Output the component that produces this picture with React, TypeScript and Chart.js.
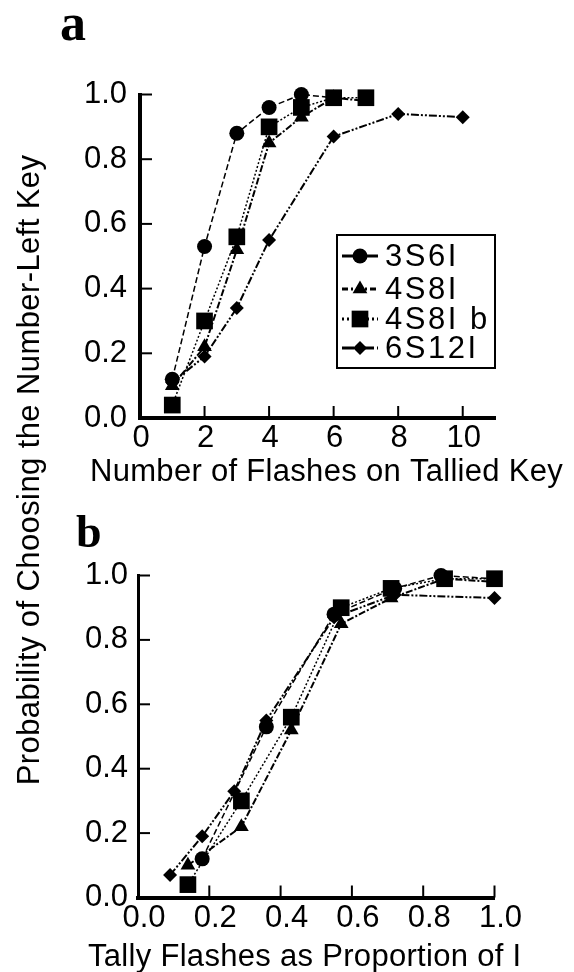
import React, { useEffect, useRef } from 'react';
import { Chart, registerables } from 'chart.js';

Chart.register(...registerables);

const W = 574;
const H = 972;

const seriesNames = ['3S6I', '4S8I', '4S8I b', '6S12I'];

// Panel a: number of flashes on the tallied key
const aX3S6I = [1, 2, 3, 4, 5, 6];
const aY3S6I = [0.12, 0.53, 0.88, 0.96, 1.0, 0.99];
const aX4S8I = [1, 2, 3, 4, 5, 6, 7];
const aY4S8I = [0.1, 0.22, 0.52, 0.85, 0.93, 0.99, 0.98];
const aX4S8Ib = [1, 2, 3, 4, 5, 6, 7];
const aY4S8Ib = [0.04, 0.3, 0.56, 0.9, 0.96, 0.99, 0.99];
const aX6S12I = [1, 2, 3, 4, 6, 8, 10];
const aY6S12I = [0.11, 0.19, 0.34, 0.55, 0.87, 0.94, 0.93];

// Panel b: tally flashes as proportion of I
const bX3S6I = [0.18, 0.36, 0.55, 0.72, 0.85, 1.0];
const bY3S6I = [0.12, 0.53, 0.88, 0.96, 1.0, 0.99];
const bX4S8I = [0.14, 0.29, 0.43, 0.57, 0.71, 0.86, 1.0];
const bY4S8I = [0.1, 0.22, 0.52, 0.85, 0.93, 0.99, 0.98];
const bX4S8Ib = [0.14, 0.29, 0.43, 0.57, 0.71, 0.86, 1.0];
const bY4S8Ib = [0.04, 0.3, 0.56, 0.9, 0.96, 0.99, 0.99];
const bX6S12I = [0.09, 0.18, 0.27, 0.36, 0.55, 0.72, 1.0];
const bY6S12I = [0.07, 0.19, 0.33, 0.55, 0.87, 0.94, 0.93];

const aXTicks = [0, 2, 4, 6, 8, 10];
const bXTicks = [0, 0.2, 0.4, 0.6, 0.8, 1.0];
const yTicks = [0, 0.2, 0.4, 0.6, 0.8, 1.0];

const labelA = 'a';
const labelB = 'b';
const yTitle = 'Probability of Choosing the Number-Left Key';
const xTitleA = 'Number of Flashes on Tallied Key';
const xTitleB = 'Tally Flashes as Proportion of I';

const SANS = '"Liberation Sans", Arial, Helvetica, sans-serif';
const SERIF = '"Liberation Serif", "Times New Roman", serif';
const FS = 31;

const styles = [
  { pointStyle: 'circle', radius: 7.5, dash: [6, 3], width: 1.5, legendDash: [] as number[] },
  { pointStyle: 'triangle', radius: 8.5, dash: [7, 2, 2, 2], width: 2, legendDash: [6, 3, 2, 3] },
  { pointStyle: 'rect', radius: 11.8, dash: [2, 2], width: 1.5, legendDash: [2, 3] },
  { pointStyle: 'rectRot', radius: 7, dash: [8, 2, 2, 2, 2, 2], width: 2, legendDash: [12, 3, 2, 3] },
];

function drawMarker(ctx: CanvasRenderingContext2D, style: string, x: number, y: number, r: number) {
  ctx.beginPath();
  if (style === 'circle') {
    ctx.arc(x, y, r, 0, Math.PI * 2);
  } else if (style === 'triangle') {
    for (let k = 0; k < 3; k++) {
      const a = (k * 2 * Math.PI) / 3;
      const px = x + Math.sin(a) * r;
      const py = y - Math.cos(a) * r;
      if (k === 0) ctx.moveTo(px, py);
      else ctx.lineTo(px, py);
    }
  } else if (style === 'rect') {
    const s = Math.SQRT1_2 * r;
    ctx.rect(x - s, y - s, 2 * s, 2 * s);
  } else {
    ctx.moveTo(x - r, y);
    ctx.lineTo(x, y - r);
    ctx.lineTo(x + r, y);
    ctx.lineTo(x, y + r);
  }
  ctx.closePath();
  ctx.fill();
}

const inwardTicksPlugin = {
  id: 'inwardTicks',
  beforeDatasetsDraw(chart: any, _a: any, opts: any) {
    const { ctx, chartArea } = chart;
    const xs = chart.scales.x;
    const ys = chart.scales.y;
    ctx.save();
    ctx.strokeStyle = '#000';
    ctx.lineWidth = opts.width || 2;
    for (const t of xs.ticks) {
      if (t.value === xs.min) continue;
      const px = xs.getPixelForValue(t.value);
      ctx.beginPath();
      ctx.moveTo(px, chartArea.bottom);
      ctx.lineTo(px, chartArea.bottom - opts.length);
      ctx.stroke();
    }
    for (const t of ys.ticks) {
      if (t.value === ys.min) continue;
      const py = ys.getPixelForValue(t.value);
      ctx.beginPath();
      ctx.moveTo(chartArea.left, py);
      ctx.lineTo(chartArea.left + opts.length, py);
      ctx.stroke();
    }
    ctx.restore();
  },
};

const textPlugin = {
  id: 'figureText',
  afterDraw(chart: any, _a: any, opts: any) {
    const ctx = chart.ctx as CanvasRenderingContext2D;
    for (const t of opts.items || []) {
      ctx.save();
      ctx.font = `${t.weight || 'normal'} ${t.size}px ${t.family}`;
      ctx.fillStyle = '#000';
      ctx.textAlign = t.align || 'left';
      ctx.textBaseline = t.baseline || 'alphabetic';
      (ctx as any).letterSpacing = `${t.spacing || 0}px`;
      ctx.translate(t.x, t.y);
      if (t.rotate) ctx.rotate(t.rotate);
      ctx.fillText(t.text, 0, 0);
      ctx.restore();
    }
  },
};

const boxLegendPlugin = {
  id: 'boxLegend',
  afterDraw(chart: any, _a: any, opts: any) {
    if (!opts.display) return;
    const ctx = chart.ctx as CanvasRenderingContext2D;
    ctx.save();
    ctx.strokeStyle = '#000';
    ctx.fillStyle = '#000';
    ctx.lineWidth = opts.borderWidth;
    ctx.strokeRect(opts.box.x, opts.box.y, opts.box.w, opts.box.h);
    chart.data.datasets.forEach((ds: any, i: number) => {
      const y = opts.rows[i];
      ctx.setLineDash(ds.legendDash || []);
      ctx.lineWidth = opts.lineWidth;
      ctx.beginPath();
      ctx.moveTo(opts.sample.x0, y);
      ctx.lineTo(opts.sample.x1, y);
      ctx.stroke();
      ctx.setLineDash([]);
      drawMarker(ctx, ds.pointStyle, opts.sample.xm, y, ds.pointRadius);
      ctx.font = `normal ${opts.fontSize}px ${SANS}`;
      (ctx as any).letterSpacing = `${opts.spacing}px`;
      ctx.textAlign = 'left';
      ctx.textBaseline = 'middle';
      ctx.fillText(ds.label, opts.textX, y + 1);
      (ctx as any).letterSpacing = '0px';
    });
    ctx.restore();
  },
};

function makeDatasets(xsList: number[][], ysList: number[][]) {
  return seriesNames.map((name, i) => ({
    label: name,
    data: xsList[i].map((x, j) => ({ x, y: ysList[i][j] })),
    showLine: true,
    borderColor: '#000',
    backgroundColor: '#000',
    borderWidth: styles[i].width,
    borderDash: styles[i].dash,
    pointStyle: styles[i].pointStyle,
    pointRadius: styles[i].radius,
    pointBackgroundColor: '#000',
    pointBorderColor: '#000',
    pointBorderWidth: 0,
    tension: 0,
    clip: false,
    legendDash: styles[i].legendDash,
  }));
}

type Area = { left: number; right: number; top: number; bottom: number };

function makeConfig(opts: {
  area: Area;
  xMin: number;
  xMax: number;
  xTicks: number[];
  xFmt: (v: number) => string;
  xLabelOffset: number;
  xBorder: number;
  yBorder: number;
  yPad: number;
  xPad: number;
  datasets: any[];
  texts: any[];
  legend: any;
}): any {
  const axisH = 60;
  const { area } = opts;
  const tickFont = { family: SANS, size: FS, weight: 'normal' as const };
  return {
    type: 'scatter',
    data: { datasets: opts.datasets },
    plugins: [inwardTicksPlugin, textPlugin, boxLegendPlugin],
    options: {
      responsive: false,
      animation: false,
      devicePixelRatio: 1,
      events: [],
      layout: {
        padding: { left: 0, top: area.top, right: W - area.right, bottom: H - area.bottom - axisH },
      },
      plugins: {
        legend: { display: false },
        tooltip: { enabled: false },
        title: { display: false },
        inwardTicks: { length: 12, width: 2 },
        figureText: { items: opts.texts },
        boxLegend: opts.legend,
      },
      scales: {
        x: {
          type: 'linear',
          min: opts.xMin,
          max: opts.xMax,
          afterFit: (s: any) => {
            s.height = axisH;
          },
          afterBuildTicks: (s: any) => {
            s.ticks = opts.xTicks.map((v) => ({ value: v }));
          },
          grid: { display: false, drawTicks: false },
          border: { display: true, width: opts.xBorder, color: '#000' },
          ticks: {
            font: tickFont,
            color: '#000',
            padding: opts.xPad,
            labelOffset: opts.xLabelOffset,
            maxRotation: 0,
            autoSkip: false,
            callback: (v: any) => opts.xFmt(Number(v)),
          },
        },
        y: {
          type: 'linear',
          min: 0,
          max: 1,
          afterFit: (s: any) => {
            s.width = area.left;
          },
          afterBuildTicks: (s: any) => {
            s.ticks = yTicks.map((v) => ({ value: v }));
          },
          grid: { display: false, drawTicks: false },
          border: { display: true, width: opts.yBorder, color: '#000' },
          ticks: {
            font: tickFont,
            color: '#000',
            padding: opts.yPad,
            autoSkip: false,
            callback: (v: any) => Number(v).toFixed(1),
          },
        },
      },
    },
  };
}

export default function App() {
  const refA = useRef<HTMLCanvasElement>(null);
  const refB = useRef<HTMLCanvasElement>(null);

  useEffect(() => {
    const chartA = new Chart(
      refA.current as HTMLCanvasElement,
      makeConfig({
        area: { left: 140, right: 495, top: 94.5, bottom: 418 },
        xMin: 0,
        xMax: 11,
        xTicks: aXTicks,
        xFmt: (v) => String(v),
        xLabelOffset: 1,
        xBorder: 4,
        yBorder: 4,
        yPad: 13,
        xPad: 2,
        datasets: makeDatasets([aX3S6I, aX4S8I, aX4S8Ib, aX6S12I], [aY3S6I, aY4S8I, aY4S8Ib, aY6S12I]),
        texts: [
          { text: labelA, x: 60, y: 40, size: 52, family: SERIF, weight: 'bold' },
          { text: xTitleA, x: 90, y: 481, size: FS, family: SANS, spacing: 0.3 },
          { text: yTitle, x: 38.5, y: 470, size: FS, family: SANS, align: 'center', rotate: -Math.PI / 2, spacing: 0.4 },
        ],
        legend: {
          display: true,
          box: { x: 337, y: 235, w: 158, h: 133 },
          borderWidth: 2,
          rows: [256, 289, 319, 348],
          sample: { x0: 342, x1: 378, xm: 360 },
          lineWidth: 3,
          textX: 385,
          fontSize: FS,
          spacing: 2.5,
        },
      })
    );
    const chartB = new Chart(
      refB.current as HTMLCanvasElement,
      makeConfig({
        area: { left: 138, right: 494.5, top: 575.5, bottom: 897.5 },
        xMin: 0,
        xMax: 1,
        xTicks: bXTicks,
        xFmt: (v) => v.toFixed(1),
        xLabelOffset: 6,
        xBorder: 4,
        yBorder: 3,
        yPad: 10,
        xPad: 2,
        datasets: makeDatasets([bX3S6I, bX4S8I, bX4S8Ib, bX6S12I], [bY3S6I, bY4S8I, bY4S8Ib, bY6S12I]),
        texts: [
          { text: labelB, x: 76, y: 547, size: 46, family: SERIF, weight: 'bold' },
          { text: xTitleB, x: 88, y: 966, size: FS, family: SANS, spacing: 0.3 },
        ],
        legend: { display: false },
      })
    );
    return () => {
      chartA.destroy();
      chartB.destroy();
    };
  }, []);

  return (
    <div style={{ position: 'absolute', left: 0, top: 0, width: W, height: H, background: '#fff', overflow: 'hidden' }}>
      <canvas ref={refA} width={W} height={H} style={{ position: 'absolute', left: 0, top: 0, width: W, height: H }} />
      <canvas ref={refB} width={W} height={H} style={{ position: 'absolute', left: 0, top: 0, width: W, height: H }} />
    </div>
  );
}
